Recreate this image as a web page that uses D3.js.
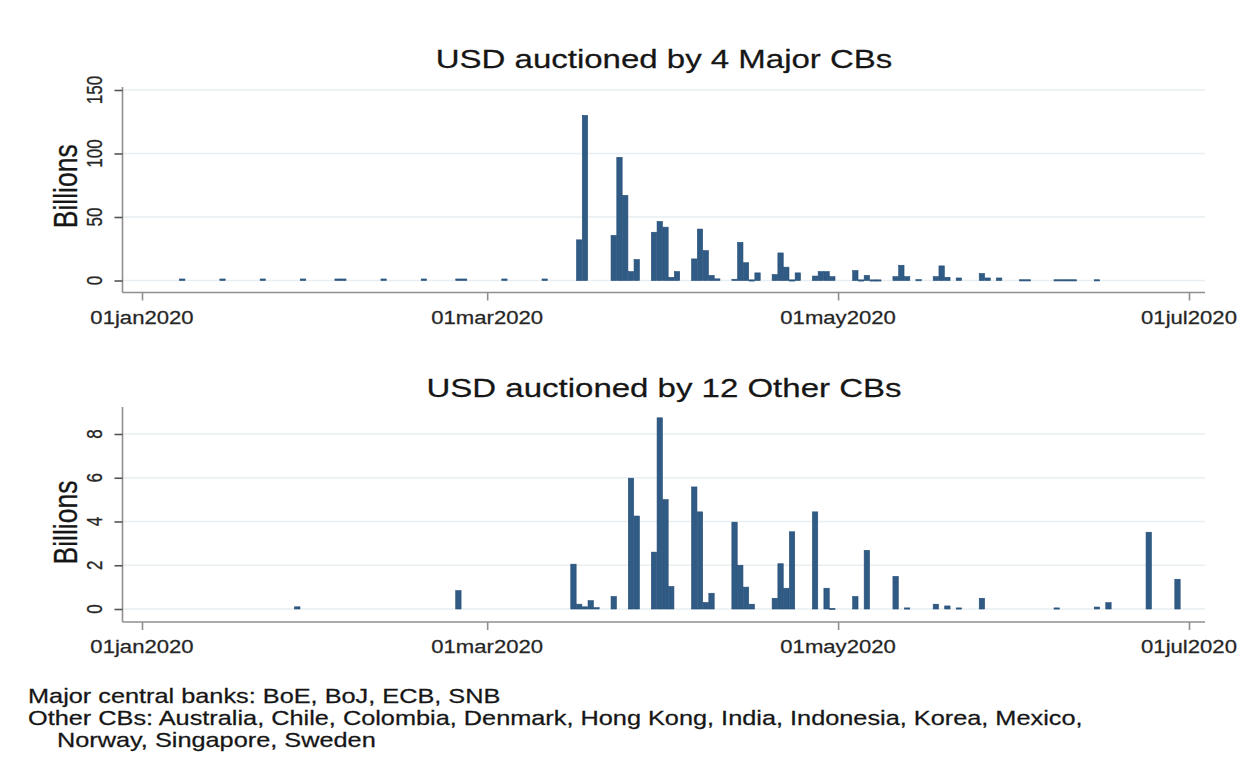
<!DOCTYPE html>
<html>
<head>
<meta charset="utf-8">
<script src="https://cdn.jsdelivr.net/npm/d3@7"></script>
<style>
  html, body { margin: 0; padding: 0; background: #ffffff; }
  svg { display: block; font-family: "Liberation Sans", Arial, Helvetica, sans-serif; }
</style>
</head>
<body>
<svg id="chart" width="1247" height="768"></svg>
<script>
// Daily USD liquidity auctions, billions
const majorDates = [
  "2020-01-08","2020-01-15","2020-01-22","2020-01-29","2020-02-04","2020-02-05",
  "2020-02-12","2020-02-19","2020-02-25","2020-02-26","2020-03-04","2020-03-11",
  "2020-03-17","2020-03-18",
  "2020-03-23","2020-03-24","2020-03-25","2020-03-26","2020-03-27",
  "2020-03-30","2020-03-31","2020-04-01","2020-04-02","2020-04-03",
  "2020-04-06","2020-04-07","2020-04-08","2020-04-09","2020-04-10",
  "2020-04-13","2020-04-14","2020-04-15","2020-04-16","2020-04-17",
  "2020-04-20","2020-04-21","2020-04-22","2020-04-23","2020-04-24",
  "2020-04-27","2020-04-28","2020-04-29","2020-04-30",
  "2020-05-04","2020-05-05","2020-05-06","2020-05-07","2020-05-08",
  "2020-05-11","2020-05-12","2020-05-13","2020-05-15",
  "2020-05-18","2020-05-19","2020-05-20","2020-05-22",
  "2020-05-26","2020-05-27","2020-05-29",
  "2020-06-02","2020-06-03",
  "2020-06-08","2020-06-09","2020-06-10","2020-06-11",
  "2020-06-15"
];
const majorValues = [
  1.2, 1.2, 1.2, 1.2, 1.2, 1.2,
  1.2, 1.2, 1.2, 1.2, 1.2, 1.2,
  32, 130,
  35.5, 97, 67, 7, 16.5,
  38, 46.5, 42, 2.5, 7,
  17, 40.5, 23.5, 4, 1.3,
  1, 30, 14, 0.5, 6,
  4.7, 21.7, 10.5, 0.5, 6,
  3.5, 7, 7, 3,
  7.8, 0.5, 4, 0.5, 0.5,
  3, 12, 3, 0.7,
  3, 11.5, 2.5, 2,
  5.5, 2, 2,
  0.6, 0.6,
  0.6, 0.6, 0.6, 0.6,
  0.6
];

const otherDates = [
  "2020-01-28","2020-02-25",
  "2020-03-16","2020-03-17","2020-03-18","2020-03-19","2020-03-20",
  "2020-03-23","2020-03-26","2020-03-27",
  "2020-03-30","2020-03-31","2020-04-01","2020-04-02",
  "2020-04-06","2020-04-07","2020-04-08","2020-04-09",
  "2020-04-13","2020-04-14","2020-04-15","2020-04-16",
  "2020-04-20","2020-04-21","2020-04-22","2020-04-23",
  "2020-04-27","2020-04-29","2020-04-30",
  "2020-05-04","2020-05-06",
  "2020-05-11","2020-05-13",
  "2020-05-18","2020-05-20","2020-05-22",
  "2020-05-26",
  "2020-06-08",
  "2020-06-15","2020-06-17",
  "2020-06-24",
  "2020-06-29"
];
const otherValues = [
  0.1, 0.84,
  2.05, 0.22, 0.1, 0.38, 0.06,
  0.57, 5.98, 4.25,
  2.6, 8.74, 5.0, 1.03,
  5.58, 4.44, 0.3, 0.72,
  3.97, 2.0, 1.0, 0.22,
  0.49, 2.07, 0.95, 3.53,
  4.44, 0.95, 0.03,
  0.57, 2.68,
  1.49, 0.05,
  0.22, 0.14, 0.05,
  0.49,
  0.05,
  0.09, 0.29,
  3.51,
  1.36
];

const majorTicks = [0, 50, 100, 150];
const otherTicks = [0, 2, 4, 6, 8];
const dateTicks = ["2020-01-01", "2020-03-01", "2020-05-01", "2020-07-01"];

const titles = ["USD auctioned by 4 Major CBs", "USD auctioned by 12 Other CBs"];
const yTitle = "Billions";
const notes = [
  "Major central banks: BoE, BoJ, ECB, SNB",
  "Other CBs: Australia, Chile, Colombia, Denmark, Hong Kong, India, Indonesia, Korea, Mexico,",
  "Norway, Singapore, Sweden"
];

const parse = d3.utcParse("%Y-%m-%d");
const fmt = d => d3.utcFormat("%d%b%Y")(d).toLowerCase();

const svg = d3.select("#chart");
const SX = 1.25;            // horizontal widening of the lettering
const BAR = "#305b85";
const BAR_EDGE = "#244d77";
const GRID = "#e7eff2";
const AXIS = "#8f8f8f";
const INK = "#161616";

const x = d3.scaleUtc()
  .domain([parse("2020-01-01"), parse("2020-07-01")])
  .range([142, 1189]);
const dayW = x(parse("2020-01-02")) - x(parse("2020-01-01"));

function label(g, px, py, str, size, opts = {}) {
  return g.append("text")
    .attr("transform", `translate(${px},${py}) scale(${SX},1)` + (opts.rotate ? ` rotate(${opts.rotate})` : ""))
    .attr("font-size", size)
    .attr("fill", opts.fill || INK)
    .attr("stroke", opts.fill || INK)
    .attr("stroke-width", 0.25)
    .attr("text-anchor", opts.anchor || "middle")
    .text(str);
}

function panel(cfg) {
  const g = svg.append("g");
  const y = d3.scaleLinear().domain(cfg.domain).range(cfg.range);
  const left = 122.5, right = 1205;

  // horizontal gridlines
  g.append("g").selectAll("line").data(cfg.ticks).join("line")
    .attr("x1", left).attr("x2", right)
    .attr("y1", d => y(d)).attr("y2", d => y(d))
    .attr("stroke", GRID).attr("stroke-width", 1.6);

  // bars
  const data = cfg.dates.map((d, i) => ({ date: parse(d), v: cfg.values[i] }));
  g.append("g").selectAll("rect").data(data).join("rect")
    .attr("x", d => x(d.date) - dayW / 2 + 0.2)
    .attr("width", dayW - 0.4)
    .attr("y", d => y(d.v))
    .attr("height", d => Math.max(1.2, y(0) - y(d.v)))
    .attr("fill", BAR)
    .attr("stroke", BAR_EDGE)
    .attr("stroke-width", 0.6);

  // y axis
  const yAxis = g.append("g").attr("transform", `translate(${left},0)`)
    .call(d3.axisLeft(y).tickValues(cfg.ticks).tickSize(8).tickFormat(""));
  yAxis.select(".domain").attr("d", `M0,${cfg.axisTop}V${cfg.axisBottom}`)
    .attr("stroke", AXIS).attr("stroke-width", 1.6);
  yAxis.selectAll(".tick line").attr("stroke", "#555").attr("stroke-width", 1.6);
  cfg.ticks.forEach(t => label(g, 101.5, y(t), String(t), 17, { rotate: -90, fill: "#262626" }));

  // x axis
  const xAxis = g.append("g").attr("transform", `translate(0,${cfg.axisBottom})`)
    .call(d3.axisBottom(x).tickValues(dateTicks.map(parse)).tickSize(8).tickFormat(""));
  xAxis.select(".domain").attr("d", `M${left},0H${right}`)
    .attr("stroke", AXIS).attr("stroke-width", 1.6);
  xAxis.selectAll(".tick line").attr("stroke", AXIS).attr("stroke-width", 1.6);
  dateTicks.forEach(d => label(g, x(parse(d)), cfg.axisBottom + 31, fmt(parse(d)), 17.7, { fill: "#262626" }));

  // titles
  label(g, 664, cfg.titleY, cfg.title, 26.4);
  label(g, 77, (y(cfg.domain[0]) + y(cfg.domain[1])) / 2 + 1, yTitle, 26.5, { rotate: -90 });
}

panel({
  dates: majorDates, values: majorValues, ticks: majorTicks,
  domain: [0, 150], range: [280.5, 90],
  axisTop: 87, axisBottom: 292.5, titleY: 67.5, title: titles[0]
});

panel({
  dates: otherDates, values: otherValues, ticks: otherTicks,
  domain: [0, 8], range: [609, 434],
  axisTop: 407, axisBottom: 622, titleY: 397, title: titles[1]
});

// footnote
label(svg, 28, 702.5, notes[0], 20.25, { anchor: "start" });
label(svg, 28, 724.5, notes[1], 20.25, { anchor: "start" });
label(svg, 57, 747, notes[2], 20.25, { anchor: "start" });
</script>
</body>
</html>
